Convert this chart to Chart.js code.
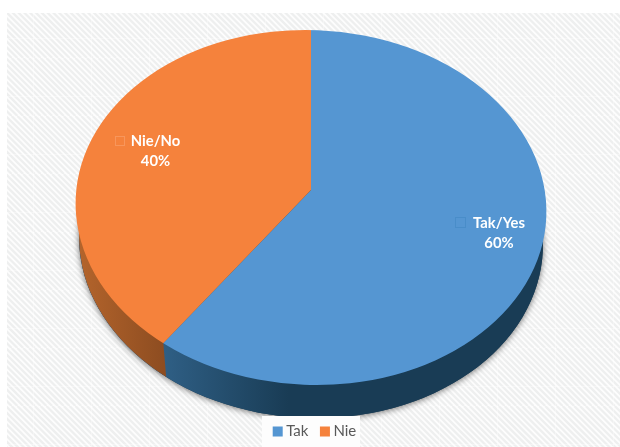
<!DOCTYPE html>
<html>
<head>
<meta charset="utf-8">
<style>
  html, body { margin: 0; padding: 0; background: #fff; }
  #wrap { position: relative; width: 620px; height: 447px; }
</style>
<script src="https://cdn.jsdelivr.net/npm/chart.js@4"></script>
</head>
<body>
<div id="wrap"><canvas id="myChart" width="620" height="447"></canvas></div>
<script>
const categories = ["Tak", "Nie"];
const pointLabels = ["Tak/Yes", "Nie/No"];
const values = [60, 40];
const colors = ["#5596d2", "#f5823c"];

// top face ellipse and the point where the slices meet (the pie has some perspective)
const top3d = { cx: 311, cy: 207.5, rx: 235.5, ry: 177.5 };
const base3d = { cx: 311, cy: 241, rx: 232, ry: 177 };
const tilt = 0.04;
const apex = { x: 311, y: 190 };
const squash = 0.754;

function hatchPattern(ctx) {
  const tile = document.createElement("canvas");
  tile.width = 58;
  tile.height = 58;
  const t = tile.getContext("2d");
  t.fillStyle = "#fdfdfd";
  t.fillRect(0, 0, 58, 58);
  t.strokeStyle = "#eeefef";
  t.lineWidth = 2.4;
  t.filter = "blur(0.6px)";
  for (let i = -58; i < 116; i += 5.8) {
    t.beginPath();
    t.moveTo(i, 0);
    t.lineTo(i + 58, 58);
    t.stroke();
  }
  // the tile seams of the original background
  t.filter = "none";
  t.fillStyle = "rgba(255,255,255,0.35)";
  t.fillRect(0, 38, 58, 1);
  t.fillRect(33, 0, 1, 58);
  return ctx.createPattern(tile, "repeat");
}

// crossing of a ray out of the apex with the tilted top ellipse
function rimPoint(angle) {
  const c0 = Math.cos(tilt);
  const s0 = Math.sin(tilt);
  const rot = (x, y) => [x * c0 + y * s0, -x * s0 + y * c0];
  const dir = rot(Math.cos(angle), Math.sin(angle) * squash);
  const org = rot(apex.x - top3d.cx, apex.y - top3d.cy);
  const ax = dir[0] / top3d.rx;
  const ay = dir[1] / top3d.ry;
  const ox = org[0] / top3d.rx;
  const oy = org[1] / top3d.ry;
  const a = ax * ax + ay * ay;
  const b = 2 * (ox * ax + oy * ay);
  const c = ox * ox + oy * oy - 1;
  const k = (-b + Math.sqrt(b * b - 4 * a * c)) / (2 * a);
  return { x: apex.x + Math.cos(angle) * k, y: apex.y + Math.sin(angle) * squash * k };
}

function wallPath(ctx) {
  ctx.beginPath();
  ctx.ellipse(base3d.cx, base3d.cy, base3d.rx, base3d.ry, tilt, 0, Math.PI * 2);
}

const pie3d = {
  id: "pie3d",
  beforeDatasetsDraw(chart) {
    const ctx = chart.ctx;
    const arcs = chart.getDatasetMeta(0).data;
    const split = rimPoint(arcs[0].endAngle);

    // background goes here so it also hides the legend's first pass
    ctx.save();
    ctx.fillStyle = hatchPattern(ctx);
    ctx.fillRect(7, 13, 613, 434);
    ctx.restore();

    // soft shadow under the wall
    ctx.save();
    ctx.shadowColor = "rgba(0,0,0,0.55)";
    ctx.shadowBlur = 6;
    ctx.shadowOffsetY = 1;
    ctx.fillStyle = "#173a52";
    wallPath(ctx);
    ctx.fill();
    ctx.restore();

    // blue wall
    const blue = ctx.createLinearGradient(split.x, 0, split.x + 125, 0);
    blue.addColorStop(0, "#2f5f85");
    blue.addColorStop(1, "#193c55");
    wallPath(ctx);
    ctx.fillStyle = blue;
    ctx.fill();

    // orange wall, left of the slice edge
    const orange = ctx.createLinearGradient(top3d.cx - top3d.rx, 0, split.x, 0);
    orange.addColorStop(0, "#b5652c");
    orange.addColorStop(1, "#8e4d21");
    ctx.save();
    ctx.beginPath();
    ctx.moveTo(0, 0);
    ctx.lineTo(split.x, 0);
    ctx.lineTo(split.x, split.y);
    ctx.lineTo(split.x + 3, split.y + 36);
    ctx.lineTo(split.x + 3, 447);
    ctx.lineTo(0, 447);
    ctx.closePath();
    ctx.clip();
    wallPath(ctx);
    ctx.fillStyle = orange;
    ctx.fill();
    ctx.restore();

    // top face: the library's arcs, squashed and cut down to the ellipse
    const arc = arcs[0];
    const k = 280 / arc.outerRadius;
    ctx.save();
    ctx.beginPath();
    ctx.ellipse(top3d.cx, top3d.cy, top3d.rx, top3d.ry, tilt, 0, Math.PI * 2);
    ctx.clip();
    ctx.translate(apex.x, apex.y);
    ctx.scale(k, k * squash);
    ctx.translate(-arc.x, -arc.y);
  },
  afterDatasetsDraw(chart) {
    const ctx = chart.ctx;
    ctx.restore();

    // faint key boxes next to the labels, then the labels
    ctx.save();
    ctx.lineWidth = 1;
    ctx.strokeStyle = "rgba(60,130,190,0.45)";
    ctx.strokeRect(455.5, 217.5, 10, 10);
    ctx.strokeStyle = "rgba(255,190,150,0.35)";
    ctx.strokeRect(115.5, 136.5, 9, 9);
    ctx.fillStyle = "#ffffff";
    ctx.font = "bold 14.8px Lato";
    ctx.textAlign = "center";
    ctx.textBaseline = "middle";
    ctx.fillText(pointLabels[0], 499, 223);
    ctx.fillText(values[0] + "%", 499, 243);
    ctx.fillText(pointLabels[1], 155.5, 141);
    ctx.fillText(values[1] + "%", 155.5, 161);
    ctx.restore();

    // white plate behind the legend
    ctx.fillStyle = "#fdfdfd";
    ctx.fillRect(262, 416, 98, 31);

    // legend text sits closer to the swatch than Chart.js allows, so the swatches are drawn here
    const legend = chart.legend;
    const dy = 431 - (legend.legendHitBoxes[0].top + legend.legendHitBoxes[0].height / 2);
    ctx.save();
    ctx.translate(1, dy);
    legend.draw();
    legend.legendItems.forEach((item, i) => {
      const box = legend.legendHitBoxes[i];
      ctx.fillStyle = item.fillStyle;
      ctx.fillRect(box.left - 6, box.top + box.height / 2 - 4.5, 10, 10);
    });
    ctx.restore();
  }
};

new Chart(document.getElementById("myChart"), {
  type: "pie",
  data: {
    labels: categories,
    datasets: [{ data: values, backgroundColor: colors, borderWidth: 0 }]
  },
  options: {
    responsive: false,
    animation: false,
    layout: { padding: { left: 13, right: 0, top: 0, bottom: 0 } },
    plugins: {
      tooltip: { enabled: false },
      legend: {
        position: "bottom",
        labels: {
          boxWidth: 0,
          padding: 17.5,
          color: "#595959",
          font: { size: 15, family: "Lato" }
        }
      }
    }
  },
  plugins: [pie3d]
});
</script>
</body>
</html>
